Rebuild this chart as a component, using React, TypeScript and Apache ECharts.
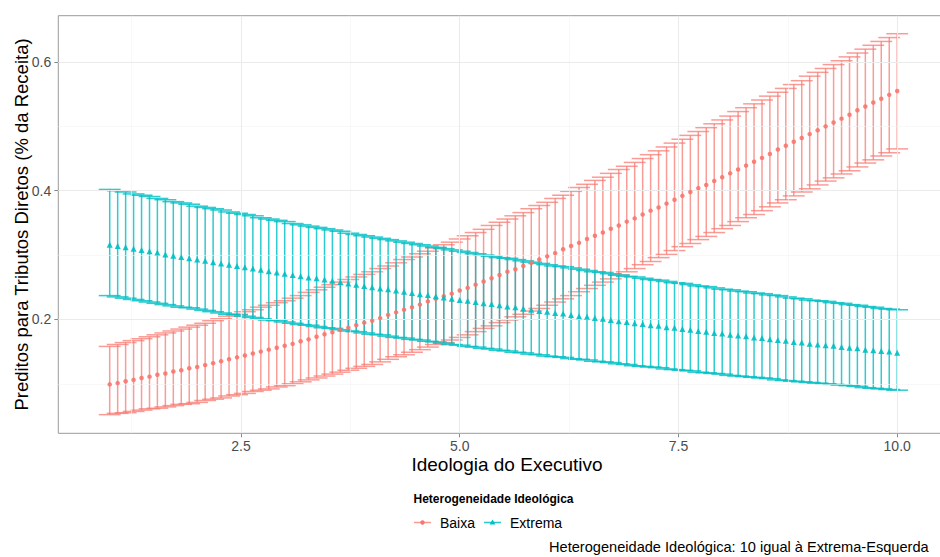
import React, { useEffect, useRef } from "react";
import * as echarts from "echarts";

// Ideologia do Executivo (x), 100 points from 1 to 10
const X = [
  1, 1.091, 1.182, 1.273, 1.364, 1.455, 1.545, 1.636, 1.727, 1.818, 1.909,
  2, 2.091, 2.182, 2.273, 2.364, 2.455, 2.545, 2.636, 2.727, 2.818, 2.909,
  3, 3.091, 3.182, 3.273, 3.364, 3.455, 3.545, 3.636, 3.727, 3.818, 3.909,
  4, 4.091, 4.182, 4.273, 4.364, 4.455, 4.545, 4.636, 4.727, 4.818, 4.909,
  5, 5.091, 5.182, 5.273, 5.364, 5.455, 5.545, 5.636, 5.727, 5.818, 5.909,
  6, 6.091, 6.182, 6.273, 6.364, 6.455, 6.545, 6.636, 6.727, 6.818, 6.909,
  7, 7.091, 7.182, 7.273, 7.364, 7.455, 7.545, 7.636, 7.727, 7.818, 7.909,
  8, 8.091, 8.182, 8.273, 8.364, 8.455, 8.545, 8.636, 8.727, 8.818, 8.909,
  9, 9.091, 9.182, 9.273, 9.364, 9.455, 9.545, 9.636, 9.727, 9.818, 9.909,
  10,
];

// Heterogeneidade Ideológica: Baixa
const baixaMean = [
  0.099, 0.101, 0.104, 0.106, 0.109, 0.111, 0.114, 0.116, 0.119, 0.121, 0.124,
  0.126, 0.129, 0.132, 0.135, 0.138, 0.141, 0.144, 0.147, 0.15, 0.153, 0.156,
  0.159, 0.162, 0.166, 0.169, 0.173, 0.177, 0.18, 0.184, 0.187, 0.191, 0.195,
  0.198, 0.202, 0.207, 0.211, 0.215, 0.219, 0.223, 0.228, 0.232, 0.236, 0.24,
  0.245, 0.249, 0.254, 0.259, 0.264, 0.269, 0.274, 0.278, 0.283, 0.288, 0.293,
  0.298, 0.303, 0.309, 0.314, 0.319, 0.325, 0.33, 0.335, 0.341, 0.346, 0.352,
  0.357, 0.363, 0.369, 0.374, 0.38, 0.386, 0.392, 0.398, 0.404, 0.409, 0.415,
  0.421, 0.427, 0.433, 0.439, 0.445, 0.451, 0.457, 0.464, 0.47, 0.476, 0.482,
  0.488, 0.494, 0.5, 0.506, 0.512, 0.518, 0.525, 0.531, 0.537, 0.543, 0.549,
  0.555,
];
const baixaUpper = [
  0.158, 0.161, 0.164, 0.167, 0.17, 0.173, 0.176, 0.179, 0.182, 0.185, 0.188,
  0.191, 0.194, 0.198, 0.201, 0.205, 0.208, 0.212, 0.215, 0.219, 0.222, 0.226,
  0.229, 0.233, 0.237, 0.242, 0.246, 0.25, 0.254, 0.258, 0.262, 0.266, 0.27,
  0.274, 0.279, 0.283, 0.288, 0.293, 0.297, 0.302, 0.306, 0.311, 0.316, 0.32,
  0.325, 0.33, 0.335, 0.34, 0.346, 0.351, 0.356, 0.361, 0.366, 0.372, 0.377,
  0.382, 0.388, 0.393, 0.399, 0.405, 0.41, 0.416, 0.421, 0.427, 0.433, 0.438,
  0.444, 0.45, 0.456, 0.462, 0.468, 0.474, 0.48, 0.486, 0.492, 0.498, 0.504,
  0.51, 0.516, 0.523, 0.529, 0.535, 0.541, 0.547, 0.553, 0.559, 0.565, 0.571,
  0.578, 0.584, 0.59, 0.596, 0.602, 0.608, 0.614, 0.62, 0.626, 0.632, 0.638,
  0.644,
];
const baixaLower = [
  0.052, 0.054, 0.055, 0.057, 0.059, 0.061, 0.062, 0.064, 0.066, 0.068, 0.069,
  0.071, 0.074, 0.076, 0.078, 0.081, 0.083, 0.085, 0.088, 0.09, 0.092, 0.095,
  0.097, 0.1, 0.103, 0.106, 0.109, 0.112, 0.115, 0.118, 0.121, 0.124, 0.127,
  0.13, 0.134, 0.138, 0.142, 0.145, 0.149, 0.153, 0.157, 0.161, 0.164, 0.168,
  0.172, 0.176, 0.181, 0.186, 0.19, 0.195, 0.199, 0.204, 0.208, 0.213, 0.217,
  0.222, 0.227, 0.232, 0.237, 0.243, 0.248, 0.253, 0.258, 0.263, 0.269, 0.274,
  0.279, 0.285, 0.29, 0.296, 0.301, 0.307, 0.313, 0.318, 0.324, 0.329, 0.335,
  0.341, 0.346, 0.352, 0.358, 0.363, 0.369, 0.375, 0.381, 0.386, 0.392, 0.398,
  0.403, 0.409, 0.415, 0.42, 0.426, 0.431, 0.437, 0.443, 0.448, 0.454, 0.459,
  0.465,
];

// Heterogeneidade Ideológica: Extrema
const extremaMean = [
  0.316, 0.314, 0.312, 0.31, 0.308, 0.306, 0.304, 0.301, 0.299, 0.297, 0.295,
  0.293, 0.291, 0.289, 0.287, 0.285, 0.283, 0.281, 0.279, 0.277, 0.275, 0.273,
  0.271, 0.269, 0.267, 0.265, 0.264, 0.262, 0.26, 0.258, 0.256, 0.254, 0.252,
  0.25, 0.248, 0.247, 0.245, 0.243, 0.241, 0.239, 0.238, 0.236, 0.234, 0.232,
  0.23, 0.229, 0.227, 0.225, 0.224, 0.222, 0.22, 0.219, 0.217, 0.215, 0.213,
  0.212, 0.21, 0.209, 0.207, 0.205, 0.204, 0.202, 0.201, 0.199, 0.197, 0.196,
  0.194, 0.193, 0.191, 0.19, 0.188, 0.187, 0.185, 0.184, 0.182, 0.181, 0.179,
  0.178, 0.176, 0.175, 0.174, 0.172, 0.171, 0.169, 0.168, 0.167, 0.165, 0.164,
  0.162, 0.161, 0.16, 0.159, 0.157, 0.156, 0.155, 0.153, 0.152, 0.151, 0.15,
  0.148,
];
const extremaUpper = [
  0.402, 0.4, 0.398, 0.395, 0.393, 0.391, 0.388, 0.386, 0.383, 0.381, 0.379,
  0.376, 0.374, 0.372, 0.37, 0.367, 0.365, 0.363, 0.361, 0.358, 0.356, 0.354,
  0.352, 0.349, 0.347, 0.345, 0.343, 0.341, 0.339, 0.337, 0.334, 0.332, 0.33,
  0.328, 0.326, 0.324, 0.322, 0.32, 0.318, 0.316, 0.314, 0.312, 0.31, 0.308,
  0.306, 0.304, 0.302, 0.3, 0.298, 0.296, 0.295, 0.293, 0.291, 0.289, 0.287,
  0.285, 0.283, 0.282, 0.28, 0.278, 0.276, 0.274, 0.273, 0.271, 0.269, 0.267,
  0.266, 0.264, 0.262, 0.261, 0.259, 0.257, 0.256, 0.254, 0.252, 0.251, 0.249,
  0.247, 0.246, 0.244, 0.243, 0.241, 0.24, 0.238, 0.237, 0.235, 0.233, 0.232,
  0.23, 0.229, 0.228, 0.226, 0.225, 0.223, 0.222, 0.22, 0.219, 0.217, 0.216,
  0.215,
];
const extremaLower = [
  0.237, 0.235, 0.233, 0.231, 0.229, 0.227, 0.225, 0.223, 0.221, 0.219, 0.218,
  0.216, 0.214, 0.212, 0.21, 0.208, 0.207, 0.205, 0.203, 0.201, 0.199, 0.198,
  0.196, 0.194, 0.192, 0.191, 0.189, 0.187, 0.186, 0.184, 0.182, 0.181, 0.179,
  0.177, 0.176, 0.174, 0.172, 0.171, 0.169, 0.168, 0.166, 0.165, 0.163, 0.161,
  0.16, 0.158, 0.157, 0.155, 0.154, 0.152, 0.151, 0.149, 0.148, 0.146, 0.145,
  0.143, 0.142, 0.141, 0.139, 0.138, 0.137, 0.135, 0.134, 0.133, 0.131, 0.13,
  0.128, 0.127, 0.126, 0.125, 0.123, 0.122, 0.121, 0.12, 0.118, 0.117, 0.116,
  0.115, 0.113, 0.112, 0.111, 0.11, 0.109, 0.108, 0.106, 0.105, 0.104, 0.103,
  0.102, 0.101, 0.1, 0.099, 0.098, 0.097, 0.096, 0.094, 0.093, 0.092, 0.091,
  0.09,
];

// Axis breaks
const X_TICKS = [2.5, 5, 7.5, 10];
const X_MINOR = [1.25, 3.75, 6.25, 8.75];
const Y_TICKS = [0.2, 0.4, 0.6];
const Y_MINOR = [0.1, 0.3, 0.5];

const X_MIN = 0.4125;
const X_MAX = 10.5875;
const Y_MIN = 0.023;
const Y_MAX = 0.672;
const CAP = 0.125;

const RED = "#F8766D";
const CYAN = "#00BFC4";
const FONT = '"Liberation Sans", Arial, Helvetica, sans-serif';

function errorBars(name: string, lo: number[], hi: number[], color: string, z: number) {
  return {
    type: "custom",
    name,
    z,
    silent: true,
    data: X.map((x, i) => [x, lo[i], hi[i]]),
    encode: { x: 0, y: [1, 2] },
    renderItem: (params: any, api: any) => {
      const x = api.value(0);
      const l = api.value(1);
      const h = api.value(2);
      const top = api.coord([x, h]);
      const bot = api.coord([x, l]);
      const tl = api.coord([x - CAP, h]);
      const tr = api.coord([x + CAP, h]);
      const bl = api.coord([x - CAP, l]);
      const br = api.coord([x + CAP, l]);
      const style = { stroke: color, lineWidth: 1.5, fill: null };
      return {
        type: "group",
        children: [
          { type: "line", shape: { x1: top[0], y1: top[1], x2: bot[0], y2: bot[1] }, style },
          { type: "line", shape: { x1: tl[0], y1: tl[1], x2: tr[0], y2: tr[1] }, style },
          { type: "line", shape: { x1: bl[0], y1: bl[1], x2: br[0], y2: br[1] }, style },
        ],
      };
    },
  };
}

export default function App() {
  const ref = useRef<HTMLDivElement>(null);

  useEffect(() => {
    if (!ref.current) return;
    const chart = echarts.init(ref.current, null, { renderer: "svg" });

    const major = { color: "#ebebeb", width: 1.1, type: "solid" };
    const minor = { color: "#f3f3f3", width: 0.6, type: "solid" };

    const option: any = {
      animation: false,
      backgroundColor: "#ffffff",
      grid: {
        left: 58.3,
        top: 15.7,
        width: 890.3,
        height: 417.6,
        show: true,
        borderColor: "#9a9a9a",
        borderWidth: 1,
        backgroundColor: "transparent",
      },
      xAxis: {
        type: "value",
        min: X_MIN,
        max: X_MAX,
        axisLine: { show: false },
        splitLine: { show: false },
        axisTick: {
          show: true,
          length: 4,
          customValues: X_TICKS,
          lineStyle: { color: "#8a8a8a", width: 1 },
        },
        axisLabel: {
          customValues: X_TICKS,
          formatter: (v: number) => v.toFixed(1),
          color: "#4d4d4d",
          fontSize: 14,
          fontFamily: FONT,
          margin: 6,
        },
      },
      yAxis: {
        type: "value",
        min: Y_MIN,
        max: Y_MAX,
        axisLine: { show: false },
        splitLine: { show: false },
        axisTick: {
          show: true,
          length: 4,
          customValues: Y_TICKS,
          lineStyle: { color: "#8a8a8a", width: 1 },
        },
        axisLabel: {
          customValues: Y_TICKS,
          formatter: (v: number) => v.toFixed(1),
          color: "#4d4d4d",
          fontSize: 14,
          fontFamily: FONT,
          margin: 7,
        },
      },
      series: [
        {
          type: "scatter",
          name: "grid",
          data: [],
          z: 1,
          silent: true,
          markLine: {
            silent: true,
            symbol: ["none", "none"],
            label: { show: false },
            animation: false,
            data: [
              ...X_MINOR.map((v) => ({ xAxis: v, lineStyle: minor })),
              ...Y_MINOR.map((v) => ({ yAxis: v, lineStyle: minor })),
              ...X_TICKS.map((v) => ({ xAxis: v, lineStyle: major })),
              ...Y_TICKS.map((v) => ({ yAxis: v, lineStyle: major })),
            ],
          },
        },
        errorBars("Baixa", baixaLower, baixaUpper, "rgba(248,118,109,0.72)", 3),
        errorBars("Extrema", extremaLower, extremaUpper, "rgba(0,191,196,0.82)", 4),
        {
          type: "scatter",
          name: "Baixa",
          z: 5,
          silent: true,
          symbol: "circle",
          symbolSize: 4.5,
          itemStyle: { color: RED, opacity: 0.9 },
          data: X.map((x, i) => [x, baixaMean[i]]),
        },
        {
          type: "scatter",
          name: "Extrema",
          z: 6,
          silent: true,
          symbol: "triangle",
          symbolSize: 6,
          itemStyle: { color: CYAN, opacity: 0.9 },
          data: X.map((x, i) => [x, extremaMean[i]]),
        },
      ],
      graphic: [
        {
          type: "text",
          x: 507,
          y: 464,
          style: {
            text: "Ideologia do Executivo",
            fill: "#000",
            font: `19px ${FONT}`,
            align: "center",
            verticalAlign: "middle",
          },
        },
        {
          type: "text",
          x: 21,
          y: 224.5,
          rotation: Math.PI / 2,
          style: {
            text: "Preditos para Tributos Diretos (% da Receita)",
            fill: "#000",
            font: `18.5px ${FONT}`,
            align: "center",
            verticalAlign: "middle",
          },
        },
        {
          type: "text",
          x: 413.5,
          y: 498.5,
          style: {
            text: "Heterogeneidade Ideológica",
            fill: "#000",
            font: `bold 12px ${FONT}`,
            align: "left",
            verticalAlign: "middle",
          },
        },
        {
          type: "line",
          shape: { x1: 414, y1: 522.5, x2: 431, y2: 522.5 },
          style: { stroke: "rgba(248,118,109,0.75)", lineWidth: 1.5 },
        },
        {
          type: "circle",
          shape: { cx: 422.5, cy: 522.5, r: 2.2 },
          style: { fill: RED },
        },
        {
          type: "text",
          x: 440,
          y: 522.5,
          style: {
            text: "Baixa",
            fill: "#000",
            font: `14px ${FONT}`,
            align: "left",
            verticalAlign: "middle",
          },
        },
        {
          type: "line",
          shape: { x1: 484, y1: 522.5, x2: 501, y2: 522.5 },
          style: { stroke: "rgba(0,191,196,0.85)", lineWidth: 1.5 },
        },
        {
          type: "polygon",
          shape: { points: [[492.5, 519.6], [495.4, 524.6], [489.6, 524.6]] },
          style: { fill: CYAN },
        },
        {
          type: "text",
          x: 510,
          y: 522.5,
          style: {
            text: "Extrema",
            fill: "#000",
            font: `14px ${FONT}`,
            align: "left",
            verticalAlign: "middle",
          },
        },
        {
          type: "text",
          x: 549,
          y: 547,
          style: {
            text: "Heterogeneidade Ideológica: 10 igual à Extrema-Esquerda",
            fill: "#000",
            font: `14.6px ${FONT}`,
            align: "left",
            verticalAlign: "middle",
          },
        },
      ],
    };

    chart.setOption(option);
    return () => chart.dispose();
  }, []);

  return (
    <div
      style={{
        position: "fixed",
        left: 0,
        top: 0,
        width: 940,
        height: 557,
        overflow: "hidden",
        background: "#ffffff",
      }}
    >
      <div ref={ref} style={{ width: 1000, height: 557 }} />
    </div>
  );
}
